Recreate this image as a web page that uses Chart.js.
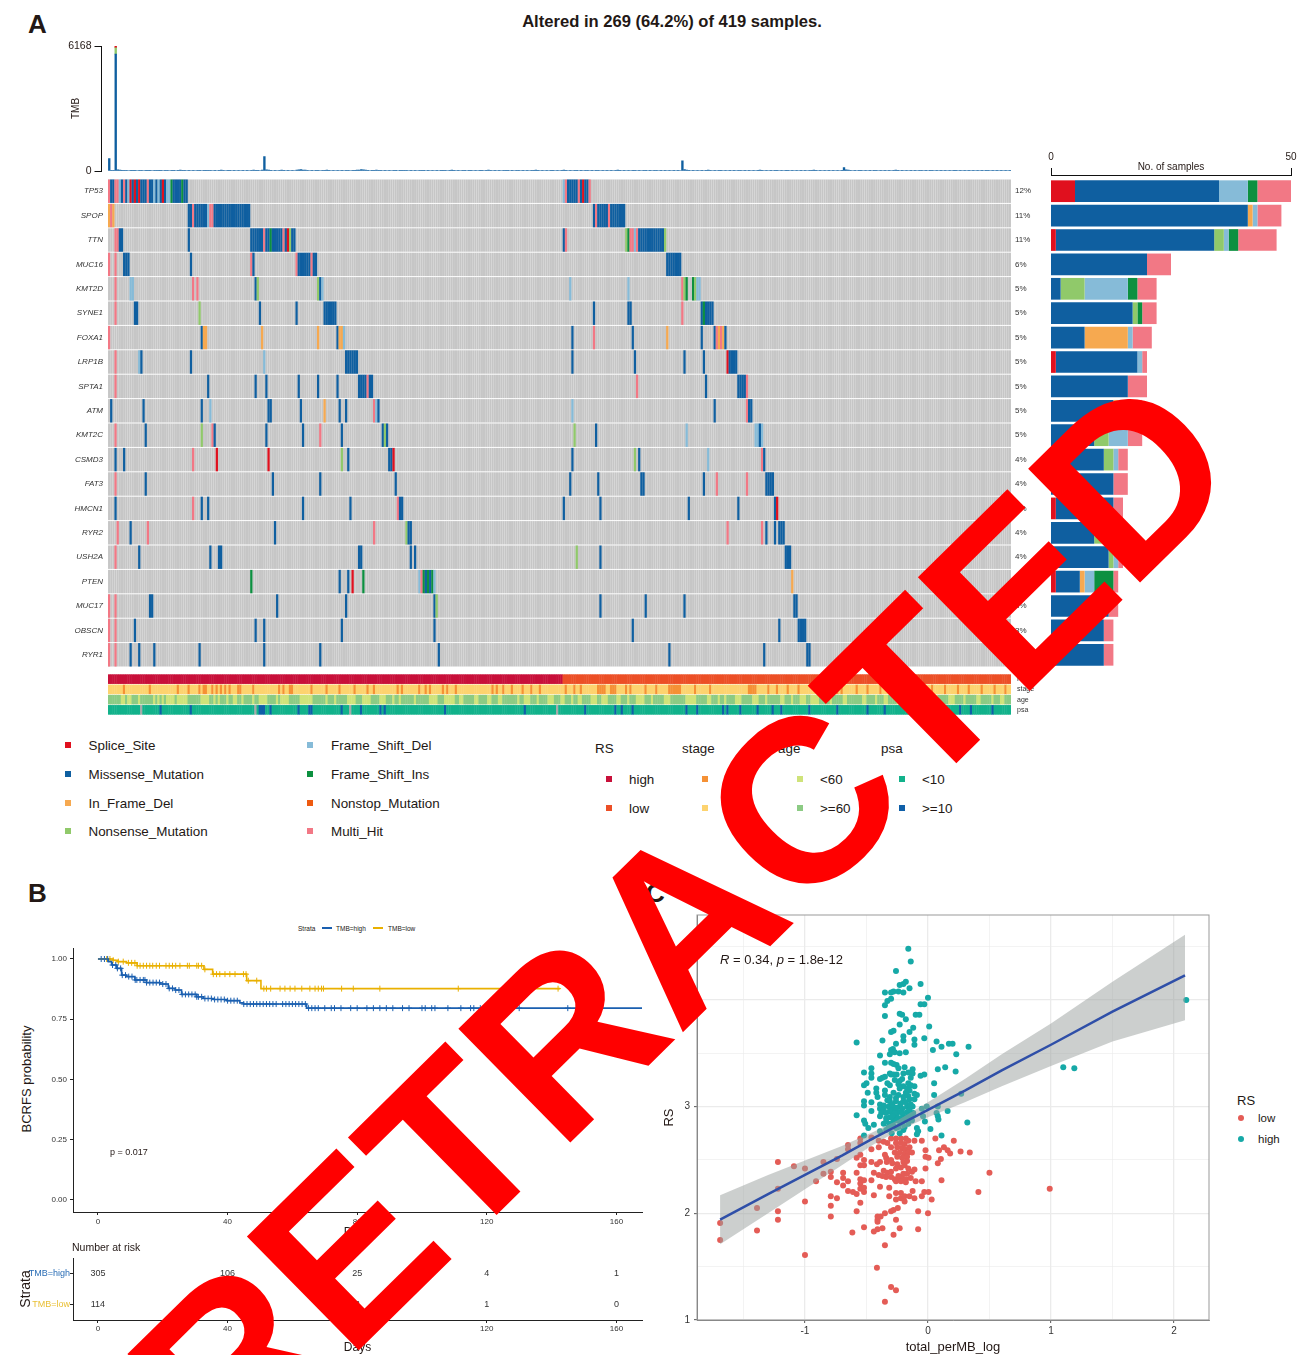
<!DOCTYPE html>
<html lang="en">
<head>
<meta charset="UTF-8">
<title>Altered in 269 of 419 samples</title>
<script src="https://cdn.jsdelivr.net/npm/chart.js"></script>
<style>
    html, body { margin: 0; padding: 0; background: #fff; }
    body { position: relative; width: 1301px; height: 1355px; overflow: hidden; font-family: "Liberation Sans", Arial, sans-serif; color: #231815; }
    canvas { position: absolute; }
    .t { position: absolute; white-space: nowrap; transform: translateY(-50%); }
    .sw { position: absolute; width: 6px; height: 6px; transform: translateY(-50%); }
    .dot { position: absolute; width: 6px; height: 6px; border-radius: 50%; transform: translate(-50%, -50%); }
    .rule { position: absolute; height: 2px; transform: translateY(-50%); }
    #stamp { position: absolute; left: 682px; top: 920px; transform: translate(-50%, -50%) rotate(-44.5deg); font: bold 232px "Liberation Sans", Arial, sans-serif; color: #ff0000; white-space: nowrap; z-index: 10; }
</style>
</head>
<body>
<div id="stamp">RETRACTED</div>
<script>
// ---------- panel A data
const sampleCount = 419;
const genes = ['TP53','SPOP','TTN','MUC16','KMT2D','SYNE1','FOXA1','LRP1B','SPTA1','ATM','KMT2C','CSMD3','FAT3','HMCN1','RYR2','USH2A','PTEN','MUC17','OBSCN','RYR1'];
const genePct = ['12%','11%','11%','6%','5%','5%','5%','5%','5%','5%','5%','4%','4%','4%','4%','4%','4%','3%','3%','3%'];

// S splice, M missense, I in frame del, N nonsense, F frame shift del, G frame shift ins, O nonstop, H multi hit
const variantCodes = ['S','M','I','N','F','G','O','H'];
const variantNames = ['Splice_Site','Missense_Mutation','In_Frame_Del','Nonsense_Mutation','Frame_Shift_Del','Frame_Shift_Ins','Nonstop_Mutation','Multi_Hit'];
const variantColors = ['#e0101e','#0f5fa0','#f6a950','#90c96a','#86bbd8','#0c9040','#ee5a10','#f27885'];

// [first sample, one letter per sample]
const mutTP53 = [[0,'HMMHHFMHMFSMSMSMMMHMMFMFMSMFFGMMMMGMM'],[211,'FHMMMMMHMSMMH']];
const mutSPOP = [[0,'IHI'],[37,'MMH'],[40,'MMMMMMFHH'],[49,'MMMMMMMMMMMMMMMMM'],[225,'MH'],[227,'MMMMM'],[232,'H'],[233,'MMMMMMM']];
const mutTTN = [[3,'HHMM'],[37,'M'],[66,'MMMMMMHMMGMMMMMHMSNMM'],[211,'MH'],[240,'NGHHFH'],[246,'MMMMMMMMMMMMN']];
const mutMUC16 = [[0,'H'],[3,'H'],[7,'MMM'],[38,'M'],[66,'HM'],[87,'HMMMMMMHMM'],[259,'MMMMMMM']];
const mutKMT2D = [[3,'H'],[10,'FF'],[39,'H'],[41,'H'],[68,'MN'],[97,'NMF'],[214,'F'],[241,'F'],[266,'HNG'],[271,'GNFF']];
const mutSYNE1 = [[3,'H'],[12,'MM'],[42,'N'],[70,'M'],[87,'M'],[100,'MMMMMM'],[225,'M'],[241,'MM'],[266,'H'],[275,'MGMMMM']];
const mutFOXA1 = [[0,'H'],[43,'MII'],[71,'I'],[97,'I'],[106,'MIIF'],[215,'M'],[225,'H'],[243,'M'],[259,'I'],[275,'M'],[281,'MHIHIM']];
const mutLRP1B = [[3,'H'],[14,'FM'],[38,'M'],[72,'F'],[110,'MMMMMM'],[215,'M'],[244,'M'],[267,'M'],[276,'M'],[287,'SMMMM']];
const mutSPTA1 = [[3,'H'],[46,'M'],[68,'M'],[73,'M'],[88,'M'],[97,'M'],[106,'M'],[116,'MMMMHMM'],[245,'H'],[277,'M'],[292,'MMMMH']];
const mutATM = [[1,'M'],[16,'M'],[43,'M'],[47,'F'],[74,'MM'],[89,'M'],[100,'I'],[107,'M'],[110,'M'],[123,'HFM'],[215,'F'],[281,'M'],[296,'HMM']];
const mutKMT2C = [[3,'H'],[17,'M'],[43,'N'],[48,'HM'],[73,'M'],[90,'M'],[98,'H'],[108,'M'],[127,'MNM'],[216,'N'],[226,'M'],[268,'F'],[300,'FFMF']];
const mutCSMD3 = [[3,'M'],[7,'M'],[39,'H'],[50,'S'],[74,'S'],[108,'N'],[111,'M'],[130,'MMS'],[215,'M'],[244,'N'],[246,'M'],[278,'F'],[303,'HM']];
const mutFAT3 = [[3,'H'],[17,'M'],[76,'M'],[98,'M'],[133,'M'],[214,'M'],[227,'M'],[247,'MM'],[276,'M'],[282,'H'],[296,'H'],[305,'MMMM']];
const mutHMCN1 = [[3,'M'],[39,'H'],[43,'M'],[46,'M'],[90,'M'],[112,'M'],[134,'HMM'],[211,'M'],[228,'M'],[269,'M'],[292,'M'],[309,'MS']];
const mutRYR2 = [[4,'H'],[10,'M'],[18,'H'],[77,'M'],[123,'H'],[138,'NMM'],[287,'H'],[303,'H'],[305,'M'],[309,'M'],[311,'MMM']];
const mutUSH2A = [[3,'H'],[14,'M'],[47,'M'],[51,'MM'],[116,'MM'],[140,'M'],[142,'M'],[217,'N'],[228,'M'],[314,'MMM']];
const mutPTEN = [[66,'G'],[107,'M'],[111,'M'],[113,'S'],[118,'G'],[144,'FHGMGMGF'],[317,'I']];
const mutMUC17 = [[0,'H'],[3,'H'],[19,'MM'],[78,'M'],[110,'M'],[151,'MN'],[228,'M'],[249,'M'],[267,'M'],[318,'MM']];
const mutOBSCN = [[0,'H'],[3,'H'],[12,'M'],[68,'M'],[72,'M'],[108,'M'],[151,'M'],[243,'M'],[311,'M'],[320,'MMMM']];
const mutRYR1 = [[0,'H'],[3,'H'],[10,'M'],[14,'M'],[21,'M'],[42,'M'],[72,'M'],[98,'M'],[153,'M'],[260,'M'],[304,'M'],[324,'MM']];
const geneMutations = [mutTP53,mutSPOP,mutTTN,mutMUC16,mutKMT2D,mutSYNE1,mutFOXA1,mutLRP1B,mutSPTA1,mutATM,mutKMT2C,mutCSMD3,mutFAT3,mutHMCN1,mutRYR2,mutUSH2A,mutPTEN,mutMUC17,mutOBSCN,mutRYR1];

// samples per gene, right hand bars
const countSplice   = [5,0,1,0,0,0,0,1,0,0,0,0,0,1,0,0,1,0,0,0];
const countMissense = [30,41,33,20,2,17,7,17,16,13,9,11,13,12,9,12,5,12,11,11];
const countInFrame  = [0,1,0,0,0,0,9,0,0,1,0,0,0,0,0,0,1,0,0,0];
const countNonsense = [0,0,2,0,5,1,0,0,0,0,3,2,0,0,2,1,0,0,0,0];
const countFsDel    = [6,1,1,0,9,0,1,1,0,3,4,1,0,0,1,1,2,0,0,0];
const countFsIns    = [2,0,2,0,2,1,0,0,0,0,0,0,0,0,0,0,4,0,0,0];
const countMulti    = [7,5,8,5,4,3,4,1,4,2,3,2,3,2,3,1,1,2,2,2];

// TMB top bars, one value per sample
const tmbMissense = [
610,20,30,5770,60,40,30,20,30,25,20,15,20,25,30,20,25,20,15,20,
25,30,20,15,20,25,30,20,25,30,20,25,30,40,35,30,25,20,25,30,
25,20,30,25,20,15,20,30,25,20,25,30,40,30,25,30,20,25,30,25,
20,25,30,25,20,25,30,40,30,35,25,40,710,60,40,30,25,20,25,30,
40,30,25,20,25,30,25,40,60,70,50,40,30,25,30,25,20,30,25,20,
30,40,30,25,20,25,30,25,20,25,30,35,25,20,30,40,50,70,60,40,
30,25,20,30,40,30,20,25,30,25,20,25,30,35,25,30,20,15,20,25,
30,25,20,25,30,20,15,25,30,25,20,25,30,25,20,15,20,25,30,40,
30,25,20,25,30,35,25,20,30,25,20,25,30,20,25,30,40,30,25,20,
25,30,25,20,30,35,25,20,25,30,20,25,30,25,20,25,30,35,40,30,
25,20,25,30,25,20,30,25,20,25,30,40,30,25,20,25,30,20,25,30,
25,20,30,25,20,25,30,35,25,20,25,30,25,20,25,30,40,30,25,30,
25,20,25,30,20,25,30,25,20,30,25,20,25,30,35,25,20,25,30,25,
20,25,30,25,20,25,500,70,40,30,25,20,25,30,25,20,25,30,40,30,
25,20,25,30,35,25,30,25,20,25,30,25,20,30,25,20,25,30,25,20,
25,30,40,30,25,20,25,30,25,20,30,25,20,25,30,35,25,20,25,30,
25,20,25,30,25,20,30,40,30,25,20,25,30,25,20,25,30,25,20,25,
30,170,60,40,30,25,20,25,30,35,25,20,25,30,25,20,30,25,20,25,
30,25,20,25,30,40,30,25,20,25,30,25,20,25,30,25,20,30,25,20,
25,30,35,25,20,25,30,25,20,25,30,25,20,30,25,20,25,30,25,20,
25,30,25,20,25,30,25,20,30,25,20,25,30,25,20,25,30,25,20];
const tmbNonsense = {3:310};
const tmbSplice = {3:88};
const tmbTicks = [0, 6168];

// clinical annotation rows
const annotLabels = ['RS','stage','age','psa'];
const rsHighCount = 211;
const stageLateSamples = [7,19,32,37,42,44,45,48,50,52,54,56,60,61,67,79,81,84,85,94,101,107,114,120,123,134,136,144,147,149,155,157,161,178,180,183,187,192,196,200,212,216,219,227,228,229,230,233,234,235,240,242,249,254,260,261,262,263,264,265,272,279,297,298,299,300,306,310,315,320,333,338,340,347,352,358,363,369,375,376,382,388,394,399,405,411,416];
const ageYoungSamples = [6,7,9,10,14,21,23,25,27,28,29,30,32,33,34,35,36,43,44,45,46,49,51,55,58,59,62,67,70,71,72,73,78,80,81,82,83,89,90,91,92,93,94,101,105,111,112,113,114,118,119,120,121,126,127,128,132,135,142,149,150,151,152,156,157,158,159,160,163,164,170,171,176,177,181,182,190,193,194,195,199,204,205,206,210,211,215,218,219,224,225,226,229,230,231,236,237,241,245,246,247,248,252,258,259,260,268,269,270,271,272,278,279,283,286,291,292,293,299,300,301,305,312,313,317,321,322,323,326,327,328,329,335,341,342,350,351,356,360,361,366,372,373,378,383,384,390,391,392,397,403,404,410,414,415];
const psaHighSamples = [24,38,70,71,72,75,88,93,94,108,117,126,128,156,193,221,235,238,243,268,273,285,287,293,301,308,312,325,338,352,360,372,380,386,395,400,410];
const psaMissingSamples = [15,68,112,208];

// legends
const rsLevels = ['high','low'];
const stageLevels = ['I-II','III-IV'];
const ageLevels = ['<60','>=60'];
const psaLevels = ['<10','>=10'];
const rsColors = ['#c8103a','#ec4f26'];
const stageColors = ['#f59135','#fdd36f'];
const ageColors = ['#cfe37a','#8ccb84'];
const psaColors = ['#12b28b','#0f5fa8'];

// ---------- panel B data
const kmHighDays = [0,2.2,3.2,4.2,5.8,7.3,8.8,11.4,15,19.1,21.7,23.8,25.8,30.5,32.5,35.6,39.7,43.8,44.9,64.4,168];
const kmHighSurv = [1,1,0.989,0.975,0.961,0.933,0.927,0.913,0.902,0.896,0.878,0.871,0.853,0.843,0.836,0.832,0.827,0.818,0.813,0.796,0.796];
const kmLowDays = [0,4.7,6,8.8,12.1,32.7,35.4,45.9,50.3,142.6];
const kmLowSurv = [1,0.995,0.989,0.984,0.972,0.957,0.937,0.91,0.877,0.877];
const censorHigh = [1,2,3,4.5,5.5,6,7,7.5,8.5,9.5,10.5,11.5,12,13,14,14.5,15,16,17,18,19,20,21,22,23,24,25,26,27,28,29,30,30.5,31,32,33,34,35,36,37,38,39,40,41,42,43,45,46,47,48,49,50,51,52,53,54,55,57,58,59,60,61,62,63,64,65,66,67,68,70,72,73,75,78,80,83,85,87,89,91,94,96,100,101,103,104,108,112,115,116,118,130,145];
const censorLow = [2.7,3.7,4.7,6.3,7.8,9.4,10.4,11.4,12.1,13,14,15,16,16.9,18,19,21,22,23,24,25.3,27.6,28.2,30.5,31,32,33,35.6,36.6,37.6,39.2,40.7,42.3,44.9,45.7,46.4,49,51.2,52,53.3,56.2,57.7,59.3,60.8,62.9,65.4,67,68,69,69.6,75.2,78.8,87,111.2,142];
const survTicks = [0,0.25,0.5,0.75,1];
const strata = ['TMB=high','TMB=low'];
const strataColors = ['#2a6db5','#e9bf33'];
const riskDays = [0,40,80,120,160];
const riskHigh = [305,106,25,4,1];
const riskLow = [114,46,3,1,0];

// ---------- panel C data
const lowPoints = [[-1.69,1.91],[-1.69,1.75],[-1.39,2.05],[-1.39,1.84],[-1.22,2.48],[-1.22,2.23],[-1.22,2.02],[-1.22,1.94],[-1.09,2.44],[-1,2.42],[-1,2.11],[-1,1.61],[-0.91,2.3],[-0.85,2.48],[-0.85,2.37],[-0.79,2.39],[-0.79,2.34],[-0.79,2.16],[-0.79,2.07],[-0.79,1.97],[-0.74,2.51],[-0.74,2.29],[-0.74,2.14],[-0.69,2.38],[-0.69,2.33],[-0.69,2.26],[-0.65,2.3],[-0.65,2.64],[-0.65,2.6],[-0.65,2.21],[-0.61,2.2],[-0.615,1.82],[-0.58,2.52],[-0.58,2.38],[-0.58,2.18],[-0.58,2.02],[-0.55,2.7],[-0.55,2.66],[-0.55,2.55],[-0.55,2.45],[-0.55,2.32],[-0.55,2.28],[-0.55,2.23],[-0.55,2.1],[-0.52,2.5],[-0.52,2.45],[-0.52,2.31],[-0.52,2.24],[-0.52,2.2],[-0.52,1.87],[-0.46,2.71],[-0.46,2.6],[-0.46,2.48],[-0.46,2.31],[-0.44,2.17],[-0.44,1.83],[-0.44,2.38],[-0.415,2.46],[-0.4,2.62],[-0.39,2.48],[-0.39,2.25],[-0.41,1.97],[-0.41,1.94],[-0.41,1.92],[-0.385,1.97],[-0.41,1.85],[-0.415,1.49],[-0.37,1.86],[-0.35,2.55],[-0.35,2],[-0.35,1.7],[-0.35,1.17],[-0.335,2.48],[-0.315,2.24],[-0.315,2.16],[-0.3,2.02],[-0.3,1.31],[-0.26,1.28],[-0.28,2.03],[-0.28,1.8],[-0.26,2.19],[-0.26,2.13],[-0.26,1.94],[-0.245,2.05],[-0.23,1.86],[-0.22,2.19],[-0.22,2.14],[-0.19,2.11],[-0.19,2.16],[-0.15,2.16],[-0.125,2.21],[-0.11,2.14],[-0.08,2.02],[-0.08,1.85],[-0.05,2.3],[-0.05,2.16],[-0.03,2.2],[0,2],[0.005,2.2],[0.03,2.13],[0.11,2.31],[0.08,2.47],[0.105,2.51],[-0.02,2.42],[-0.02,2.59],[-0.02,2.53],[0.005,2.52],[0.06,2.7],[0.09,2.59],[0.13,2.62],[0.16,2.59],[0.18,2.56],[0.265,2.58],[0.34,2.57],[0.21,2.68],[0.41,2.2],[0.5,2.38],[-0.11,2.68],[-0.05,2.68],[0.99,2.23],[-0.3,2.7],[-0.26,2.7],[-0.22,2.7],[-0.18,2.7],[-0.26,2.66],[-0.22,2.66],[-0.19,2.65],[-0.16,2.68],[-0.33,2.66],[-0.36,2.67],[-0.4,2.68],[-0.3,2.62],[-0.25,2.62],[-0.21,2.61],[-0.18,2.6],[-0.15,2.62],[-0.27,2.57],[-0.23,2.57],[-0.19,2.56],[-0.16,2.57],[-0.13,2.57],[-0.34,2.52],[-0.3,2.5],[-0.25,2.53],[-0.21,2.52],[-0.17,2.53],[-0.29,2.47],[-0.25,2.46],[-0.2,2.48],[-0.17,2.49],[-0.26,2.42],[-0.22,2.43],[-0.19,2.45],[-0.16,2.42],[-0.13,2.39],[-0.11,2.41],[-0.17,2.37],[-0.2,2.37],[-0.36,2.4],[-0.33,2.38],[-0.3,2.39],[-0.4,2.36],[-0.37,2.35],[-0.34,2.34],[-0.3,2.34],[-0.27,2.32],[-0.24,2.32],[-0.21,2.33],[-0.18,2.32],[-0.26,2.3],[-0.22,2.3],[-0.18,2.29],[-0.14,2.33],[-0.1,2.3],[-0.24,2.35]];
const highPoints = [[-0.16,4.48],[-0.14,4.36],[-0.26,4.27],[-0.06,4.15],[-0.18,4.17],[-0.2,4.15],[-0.23,4.14],[-0.35,4.07],[-0.3,4.07],[-0.28,4.08],[-0.24,4.08],[-0.2,4.07],[-0.15,4.11],[0,4.02],[-0.3,4.01],[-0.33,3.99],[-0.35,3.95],[-0.06,3.96],[-0.03,3.96],[-0.35,3.85],[-0.23,3.87],[-0.21,3.86],[-0.18,3.82],[-0.1,3.86],[-0.07,3.86],[-0.23,3.77],[0.01,3.75],[-0.12,3.74],[-0.15,3.7],[-0.3,3.7],[-0.28,3.71],[-0.2,3.66],[-0.2,3.62],[-0.37,3.62],[-0.11,3.63],[-0.11,3.58],[-0.03,3.64],[0.07,3.61],[-0.58,3.6],[-0.26,3.59],[0.11,3.56],[0.17,3.59],[0.2,3.59],[0.33,3.56],[-0.285,3.54],[-0.3,3.53],[-0.31,3.49],[-0.27,3.51],[-0.23,3.5],[-0.18,3.51],[0.04,3.53],[0.23,3.49],[-0.39,3.48],[-0.35,3.41],[-0.3,3.41],[-0.28,3.4],[-0.255,3.39],[-0.24,3.36],[-0.19,3.37],[-0.125,3.35],[0.14,3.37],[0.08,3.35],[0.225,3.33],[-0.46,3.36],[-0.52,3.32],[-0.46,3.31],[-0.46,3.27],[-0.31,3.31],[-0.3,3.3],[-0.28,3.3],[-0.255,3.3],[-0.2,3.31],[-0.16,3.32],[-0.125,3.31],[-0.03,3.3],[-0.06,3.29],[-0.35,3.28],[-0.37,3.27],[-0.39,3.26],[-0.5,3.22],[-0.52,3.2],[-0.23,3.24],[-0.24,3.21],[-0.31,3.2],[-0.11,3.19],[-0.16,3.22],[-0.14,3.2],[0.05,3.22],[-0.2,3.19],[-0.23,3.17],[-0.17,3.17],[-0.15,3.15],[-0.35,3.15],[-0.42,3.17],[-0.42,3.13],[-0.49,3.13],[-0.41,3.09],[-0.35,3.11],[-0.31,3.09],[-0.26,3.08],[-0.2,3.09],[-0.16,3.1],[-0.11,3.12],[-0.09,3.11],[0.05,3.11],[0.27,3.12],[-0.52,3.05],[-0.52,3.01],[-0.46,3.04],[-0.39,3.02],[-0.36,3.01],[-0.31,3.05],[-0.26,3.05],[-0.2,3.05],[-0.15,3.07],[-0.11,3.07],[-0.32,3],[-0.28,2.98],[-0.23,3],[-0.17,3],[-0.125,3],[-0.05,2.98],[-0.01,3],[0.08,3],[-0.39,2.98],[-0.36,2.97],[-0.46,2.96],[-0.38,2.94],[-0.34,2.94],[-0.295,2.95],[-0.24,2.95],[-0.17,2.95],[-0.12,2.94],[0.16,2.96],[0.07,2.94],[-0.58,2.92],[-0.39,2.91],[-0.34,2.89],[-0.31,2.9],[-0.255,2.91],[-0.2,2.91],[-0.16,2.91],[-0.04,2.91],[0.08,2.91],[-0.52,2.87],[-0.51,2.84],[-0.34,2.86],[-0.28,2.87],[-0.23,2.86],[-0.13,2.87],[0.085,2.88],[0.32,2.85],[-0.025,2.86],[-0.44,2.83],[-0.485,2.8],[-0.39,2.77],[-0.32,2.81],[-0.28,2.82],[-0.24,2.81],[-0.19,2.81],[-0.09,2.8],[0.02,2.79],[-0.08,2.77],[-0.52,2.73],[-0.295,2.75],[-0.2,2.78],[0.11,2.73],[-0.09,2.74],[-0.23,2.75],[2.1,4],[1.1,3.37],[1.19,3.36],[-0.27,3.25],[-0.21,3.26],[-0.14,3.27],[-0.33,3.22],[-0.18,3.13],[-0.28,3.13],[-0.24,3.11],[-0.33,3.06],[-0.22,3.03],[-0.18,3.04],[-0.29,3.02],[-0.14,3.02],[-0.26,2.99],[-0.21,2.98],[-0.15,2.97],[-0.31,2.96],[-0.27,2.94],[-0.21,2.94],[-0.14,2.92],[-0.29,2.91],[-0.22,2.89],[-0.18,2.88],[-0.26,2.87],[-0.31,2.84],[-0.21,2.84],[-0.16,2.84],[-0.36,2.84],[-0.26,2.8],[-0.34,2.78]];
const fitX = [-1.69,-1.3,-1,-0.7,-0.45,-0.25,0,0.3,0.6,1,1.5,2.09];
const fitY = [1.94,2.18,2.36,2.54,2.7,2.82,2.97,3.15,3.34,3.58,3.89,4.23];
const fitUpper = [2.17,2.36,2.495,2.63,2.76,2.87,3.04,3.26,3.49,3.78,4.17,4.61];
const fitLower = [1.71,2,2.225,2.45,2.64,2.77,2.9,3.04,3.19,3.38,3.61,3.81];
const corrLegend = ['low','high'];
const corrColors = ['#e45c56','#16a9a7'];

// ---------- helpers
Chart.defaults.animation = false;
Chart.defaults.font.family = '"Liberation Sans", Arial, sans-serif';
Chart.defaults.color = '#231815';
Chart.defaults.plugins.legend.display = false;
Chart.defaults.plugins.tooltip.enabled = false;

function addChart(left, top, w, h, config) {
    const c = document.createElement('canvas');
    c.width = w; c.height = h;
    c.style.left = left + 'px'; c.style.top = top + 'px';
    document.body.appendChild(c);
    config.options = config.options || {};
    config.options.responsive = false;
    return new Chart(c.getContext('2d'), config);
}
function addText(x, y, str, css) {
    const d = document.createElement('div');
    d.className = 't';
    d.style.cssText = 'left:' + x + 'px;top:' + y + 'px;' + (css || '');
    d.innerHTML = str;
    document.body.appendChild(d);
    return d;
}
function addMark(cls, x, y, color) {
    const d = document.createElement('div');
    d.className = cls;
    d.style.cssText = 'left:' + x + 'px;top:' + y + 'px;background:' + color;
    document.body.appendChild(d);
}
// fixed axis width and no room for half tick labels, so the plot area stays where it is put
function fixWidth(w) {
    return s => { s.width = w; s.paddingTop = 0; s.paddingBottom = 0; };
}
const sampleLabels = [];
for (let i = 0; i < sampleCount; i++) sampleLabels.push(i);

// ---------- A: titles
addText(28, 24, 'A', 'font:bold 26px "Liberation Sans"');
addText(672, 22, 'Altered in 269 (64.2%) of 419 samples.', 'font:bold 16.6px "Liberation Sans";transform:translate(-50%,-50%)');

// ---------- A: TMB bars
addChart(68, 40, 947, 136, {
    type: 'bar',
    data: { datasets: [
        { data: tmbMissense.map((v, i) => ({ x: i + 0.5, y: v })), backgroundColor: variantColors[1], stack: 't', barThickness: 1.7 },
        { data: Object.keys(tmbNonsense).map(k => ({ x: +k + 0.5, y: tmbNonsense[k] })), backgroundColor: variantColors[3], stack: 't', barThickness: 1.7 },
        { data: Object.keys(tmbSplice).map(k => ({ x: +k + 0.5, y: tmbSplice[k] })), backgroundColor: variantColors[0], stack: 't', barThickness: 1.7 }
    ] },
    options: {
        layout: { padding: { top: 6, bottom: 5, right: 4 } },
        scales: {
            x: { type: 'linear', display: false, offset: false, min: -3.1, max: 419, stacked: true, grid: { offset: false } },
            y: {
                min: 0, max: 6168, stacked: true,
                afterFit: fixWidth(33.5),
                afterBuildTicks: s => { s.ticks = tmbTicks.map(v => ({ value: v })); },
                ticks: { callback: v => String(v), font: { size: 10.5 }, padding: 3, color: '#231815' },
                grid: { drawOnChartArea: false, color: '#111', tickLength: 7 },
                border: { color: '#111', width: 1 },
                title: { display: true, text: 'TMB', font: { size: 10 }, padding: { top: 2, bottom: 0 }, color: '#231815' }
            }
        }
    }
});

// ---------- A: oncoplot matrix
const geneDatasets = [];
genes.forEach((g, row) => {
    geneDatasets.push({
        label: g + ' wild type', grouped: false, order: 2,
        data: sampleLabels.map(() => [row + 0.02, row + 0.98]),
        backgroundColor: '#c6c6c6', barPercentage: 0.97, categoryPercentage: 1
    });
    const vals = sampleLabels.map(() => null);
    const cols = sampleLabels.map(() => '#c6c6c6');
    geneMutations[row].forEach(seg => {
        seg[1].split('').forEach((code, k) => {
            vals[seg[0] + k] = [row + 0.02, row + 0.98];
            cols[seg[0] + k] = variantColors[variantCodes.indexOf(code)];
        });
    });
    geneDatasets.push({
        label: g, grouped: false, order: 1, data: vals, backgroundColor: cols,
        barPercentage: 1.05, categoryPercentage: 1
    });
});
addChart(60, 179, 985, 488, {
    type: 'bar',
    data: { labels: sampleLabels, datasets: geneDatasets },
    options: {
        scales: {
            x: { display: false },
            y: {
                type: 'linear', reverse: true, min: 0, max: 20,
                afterFit: fixWidth(48),
                afterBuildTicks: s => { s.ticks = genes.map((g, i) => ({ value: i + 0.5 })); },
                ticks: { callback: (v, i) => genes[i], font: { size: 8, style: 'italic' }, padding: 5, autoSkip: false, color: '#333' },
                grid: { display: false, drawTicks: false }, border: { display: false }
            },
            yPct: {
                type: 'linear', position: 'right', reverse: true, min: 0, max: 20,
                afterFit: fixWidth(34),
                afterBuildTicks: s => { s.ticks = genePct.map((g, i) => ({ value: i + 0.5 })); },
                ticks: { callback: (v, i) => genePct[i], font: { size: 8 }, padding: 4, autoSkip: false, color: '#333' },
                grid: { display: false, drawTicks: false }, border: { display: false }
            }
        }
    }
});

// ---------- A: samples per gene
const stackCounts = [countSplice, countMissense, countInFrame, countNonsense, countFsDel, countFsIns, countMulti];
const stackColors = [variantColors[0], variantColors[1], variantColors[2], variantColors[3], variantColors[4], variantColors[5], variantColors[7]];
addChart(1051, 179, 250, 488, {
    type: 'bar',
    data: { labels: genes, datasets: stackCounts.map((d, i) => ({ data: d, backgroundColor: stackColors[i], barPercentage: 1, categoryPercentage: 0.89 })) },
    options: {
        indexAxis: 'y',
        layout: { padding: { right: 10 } },
        scales: {
            x: { display: false, stacked: true, min: 0, max: 50 },
            y: { display: false, stacked: true }
        }
    }
});
addChart(1040, 148, 261, 29, {
    type: 'bar',
    data: { datasets: [] },
    options: {
        layout: { padding: { left: 11, right: 10 } },
        scales: {
            x: {
                type: 'linear', position: 'top', offset: false, min: 0, max: 50,
                afterFit: s => { s.height = 27; s.paddingLeft = 0; s.paddingRight = 0; },
                afterBuildTicks: s => { s.ticks = [{ value: 0 }, { value: 50 }]; },
                ticks: { font: { size: 10 }, padding: 5, maxRotation: 0, color: '#231815' },
                grid: { drawOnChartArea: false, offset: false, color: '#111', tickLength: 7 },
                border: { color: '#111' }
            },
            y: { display: false }
        }
    }
});
addText(1171, 166, 'No. of samples', 'font:10px "Liberation Sans";transform:translate(-50%,-50%)');

// ---------- A: clinical annotation
const stageRow = sampleLabels.map(i => stageLateSamples.includes(i) ? stageColors[0] : stageColors[1]);
const ageRow = sampleLabels.map(i => ageYoungSamples.includes(i) ? ageColors[0] : ageColors[1]);
const psaRow = sampleLabels.map(i => psaHighSamples.includes(i) ? psaColors[1] : (psaMissingSamples.includes(i) ? '#a9a9a9' : psaColors[0]));
const rsRow = sampleLabels.map(i => i < rsHighCount ? rsColors[0] : rsColors[1]);
const annotRows = [rsRow, stageRow, ageRow, psaRow];
addChart(108, 674, 937, 41, {
    type: 'bar',
    data: { labels: sampleLabels, datasets: annotRows.map((cols, row) => ({
        grouped: false, data: sampleLabels.map(() => [row + 0.03, row + 0.97]),
        backgroundColor: cols, barPercentage: 1.2, categoryPercentage: 1
    })) },
    options: {
        scales: {
            x: { display: false },
            y: {
                type: 'linear', position: 'right', reverse: true, min: 0, max: 4,
                afterFit: fixWidth(34),
                afterBuildTicks: s => { s.ticks = annotLabels.map((g, i) => ({ value: i + 0.5 })); },
                ticks: { callback: (v, i) => annotLabels[i], font: { size: 7 }, padding: 6, autoSkip: false, color: '#333' },
                grid: { display: false, drawTicks: false }, border: { display: false }
            }
        }
    }
});

// ---------- A: legends
const legendRows = [745, 774, 803, 831];
[0, 1, 2, 3].forEach(i => {
    addMark('sw', 65, legendRows[i], variantColors[i]);
    addText(88.5, legendRows[i], variantNames[i], 'font:13.4px "Liberation Sans"');
    addMark('sw', 307, legendRows[i], variantColors[i + 4]);
    addText(331, legendRows[i], variantNames[i + 4], 'font:13.4px "Liberation Sans"');
});
[['RS', 595, 606, 629, rsLevels, rsColors], ['stage', 682, 702, 724, stageLevels, stageColors], ['age', 778, 797, 820, ageLevels, ageColors], ['psa', 881, 899, 922, psaLevels, psaColors]].forEach(g => {
    addText(g[1], 748, g[0], 'font:13.4px "Liberation Sans"');
    g[4].forEach((lv, i) => {
        addMark('sw', g[2], 779 + i * 29, g[5][i]);
        addText(g[3], 779 + i * 29, lv.replace('<', '&lt;').replace('>', '&gt;'), 'font:13.4px "Liberation Sans"');
    });
});

// ---------- B: survival curves
function survAt(days, surv, d) {
    let s = surv[0];
    for (let i = 0; i < days.length; i++) if (days[i] <= d) s = surv[i];
    return s;
}
addText(28, 893, 'B', 'font:bold 26px "Liberation Sans"');
addChart(40, 940, 610, 300, {
    type: 'scatter',
    data: { datasets: [
        { data: kmHighDays.map((d, i) => ({ x: d, y: kmHighSurv[i] })), showLine: true, stepped: true, borderColor: '#1a5fb0', borderWidth: 1.6, pointRadius: 0 },
        { data: kmLowDays.map((d, i) => ({ x: d, y: kmLowSurv[i] })), showLine: true, stepped: true, borderColor: '#e9b000', borderWidth: 1.6, pointRadius: 0 },
        { data: censorHigh.map(d => ({ x: d, y: survAt(kmHighDays, kmHighSurv, d) })), pointStyle: 'cross', pointRadius: 3, borderColor: '#1a5fb0', borderWidth: 1 },
        { data: censorLow.map(d => ({ x: d, y: survAt(kmLowDays, kmLowSurv, d) })), pointStyle: 'cross', pointRadius: 3, borderColor: '#e9b000', borderWidth: 1 }
    ] },
    options: {
        layout: { padding: { top: 8, right: 8 } },
        scales: {
            x: {
                type: 'linear', min: -7.7, max: 167.9,
                afterFit: s => { s.height = 28; },
                ticks: { stepSize: 40, includeBounds: false, font: { size: 8 }, padding: 2, maxRotation: 0, color: '#333' },
                grid: { drawOnChartArea: false, color: '#222', tickLength: 3 },
                border: { color: '#222' },
                title: { display: true, text: 'Days', font: { size: 12 }, padding: 0, color: '#231815' }
            },
            y: {
                type: 'linear', min: -0.05, max: 1.0456,
                afterFit: s => { s.width = 33; },
                afterBuildTicks: s => { s.ticks = survTicks.map(v => ({ value: v })); },
                ticks: { callback: v => v.toFixed(2), font: { size: 8 }, padding: 3, color: '#333' },
                grid: { drawOnChartArea: false, color: '#222', tickLength: 3 },
                border: { color: '#222' }
            }
        }
    }
});
addText(26, 1079, 'BCRFS probability', 'font:13px "Liberation Sans";transform:translate(-50%,-50%) rotate(-90deg)');
addText(110, 1152, 'p = 0.017', 'font:9px "Liberation Sans"');
addText(298, 928, 'Strata', 'font:6.5px "Liberation Sans"');
addMark('rule', 322, 928, '#1a5fb0'); document.body.lastChild.style.width = '10px';
addText(336, 928, 'TMB=high', 'font:6.5px "Liberation Sans"');
addMark('rule', 373, 928, '#e9b000'); document.body.lastChild.style.width = '10px';
addText(388, 928, 'TMB=low', 'font:6.5px "Liberation Sans"');

// ---------- B: number at risk
addText(72, 1247, 'Number at risk', 'font:10.5px "Liberation Sans"');
const riskValues = [riskHigh, riskLow];
addChart(18, 1250, 632, 105, {
    type: 'scatter',
    data: { datasets: strata.map((s, r) => ({ data: riskDays.map((d, i) => ({ x: d, y: s, v: riskValues[r][i] })), pointRadius: 0 })) },
    options: {
        layout: { padding: { top: 8, right: 8 } },
        scales: {
            x: {
                type: 'linear', min: -7.7, max: 167.9,
                afterFit: s => { s.height = 35; },
                ticks: { stepSize: 40, includeBounds: false, font: { size: 8 }, padding: 1, maxRotation: 0, color: '#333' },
                grid: { drawOnChartArea: false, color: '#222', tickLength: 3 },
                border: { color: '#222' },
                title: { display: true, text: 'Days', font: { size: 12 }, padding: 0, color: '#231815' }
            },
            y: {
                type: 'category', labels: strata, offset: true,
                afterFit: s => { s.width = 55; },
                ticks: { font: { size: 9 }, padding: 0, color: c => strataColors[c.index] },
                grid: { drawOnChartArea: false, color: '#222', tickLength: 3 },
                border: { color: '#222' },
                title: { display: true, text: 'Strata', font: { size: 14 }, padding: 0, color: '#231815' }
            }
        }
    },
    plugins: [{
        id: 'riskText',
        afterDatasetsDraw(chart) {
            const ctx = chart.ctx;
            ctx.save();
            ctx.font = '9px "Liberation Sans"';
            ctx.fillStyle = '#333';
            ctx.textAlign = 'center';
            ctx.textBaseline = 'middle';
            chart.data.datasets.forEach(ds => ds.data.forEach(p => {
                ctx.fillText(p.v, chart.scales.x.getPixelForValue(p.x), chart.scales.y.getPixelForValue(p.y));
            }));
            ctx.restore();
        }
    }]
});

// ---------- C: scatter
addText(646, 893, 'C', 'font:bold 26px "Liberation Sans"');
const panelGrid = c => (Number.isInteger(c.tick.value) ? 1.3 : 0.6);
const intOnly = v => (Number.isInteger(v) ? v : '');
const majorTick = c => (Number.isInteger(c.tick.value) ? '#555' : 'rgba(0,0,0,0)');
addChart(662, 905, 558, 450, {
    type: 'scatter',
    data: { datasets: [
        { order: 4, data: lowPoints.map(p => ({ x: p[0], y: p[1] })), backgroundColor: corrColors[0], borderWidth: 0, pointRadius: 3 },
        { order: 3, data: highPoints.map(p => ({ x: p[0], y: p[1] })), backgroundColor: corrColors[1], borderWidth: 0, pointRadius: 3 },
        { order: 2, data: fitX.map((x, i) => ({ x: x, y: fitUpper[i] })), showLine: true, pointRadius: 0, borderWidth: 0, fill: '+1', backgroundColor: 'rgba(153,160,158,0.5)' },
        { order: 2, data: fitX.map((x, i) => ({ x: x, y: fitLower[i] })), showLine: true, pointRadius: 0, borderWidth: 0 },
        { order: 1, data: fitX.map((x, i) => ({ x: x, y: fitY[i] })), showLine: true, pointRadius: 0, borderColor: '#2f4fa8', borderWidth: 2.5 }
    ] },
    options: {
        layout: { padding: { top: 10, right: 11 } },
        scales: {
            x: {
                type: 'linear', min: -1.878, max: 2.285,
                afterFit: s => { s.height = 35; },
                ticks: { stepSize: 0.5, includeBounds: false, autoSkip: false, callback: intOnly, font: { size: 10 }, padding: 2, maxRotation: 0, color: '#333' },
                grid: { color: '#ebebeb', lineWidth: panelGrid, tickColor: majorTick, tickLength: 3, tickWidth: 1 },
                border: { color: '#777' },
                title: { display: true, text: 'total_perMB_log', font: { size: 13 }, padding: 0, color: '#231815' }
            },
            y: {
                type: 'linear', min: 1, max: 4.796,
                afterFit: s => { s.width = 35; },
                ticks: { stepSize: 0.5, includeBounds: false, autoSkip: false, callback: intOnly, font: { size: 10 }, padding: 4, color: '#333' },
                grid: { color: '#ebebeb', lineWidth: panelGrid, tickColor: majorTick, tickLength: 3, tickWidth: 1 },
                border: { color: '#777' },
                title: { display: true, text: 'RS', font: { size: 13 }, padding: 0, color: '#231815' }
            }
        }
    },
    plugins: [{
        id: 'panelBorder',
        afterDraw(chart) {
            const a = chart.chartArea;
            chart.ctx.save();
            chart.ctx.strokeStyle = '#999';
            chart.ctx.lineWidth = 1;
            chart.ctx.strokeRect(a.left, a.top, a.width, a.height);
            chart.ctx.restore();
        }
    }]
});
addText(720, 959, '<i>R</i> = 0.34, <i>p</i> = 1.8e-12', 'font:13px "Liberation Sans"');
addText(1237, 1100, 'RS', 'font:13px "Liberation Sans"');
corrLegend.forEach((lv, i) => {
    addMark('dot', 1241, 1118 + i * 21, corrColors[i]);
    addText(1258, 1118 + i * 21, lv, 'font:11.5px "Liberation Sans"');
});
</script>
</body>
</html>
